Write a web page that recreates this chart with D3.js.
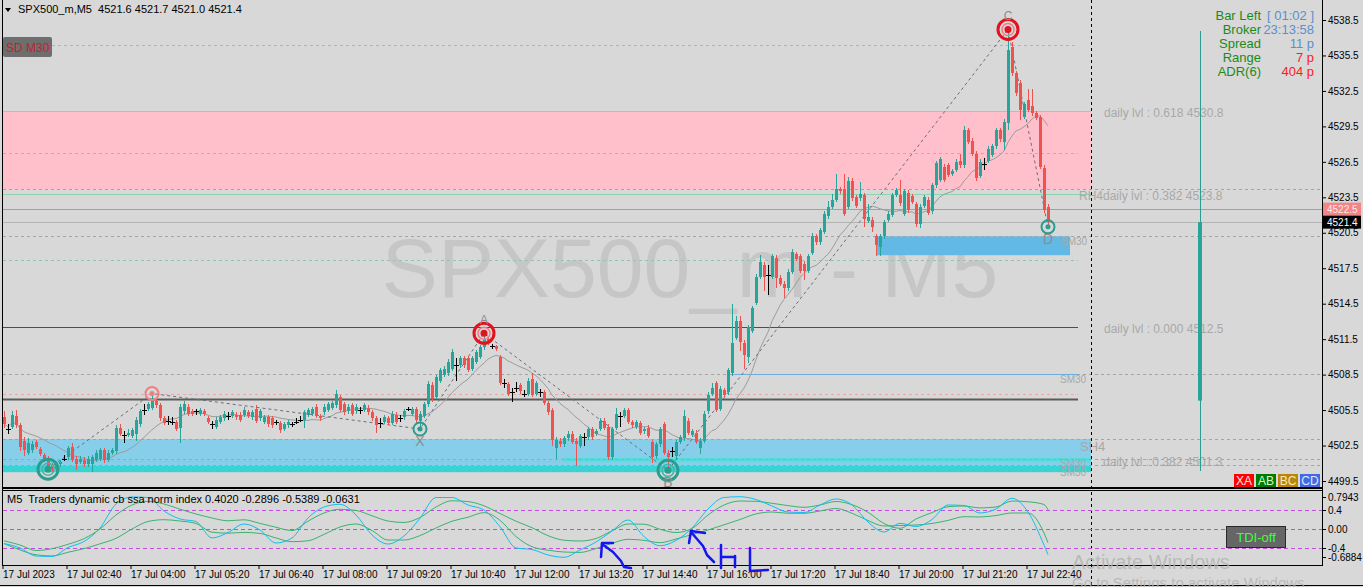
<!DOCTYPE html>
<html>
<head>
<meta charset="utf-8">
<script src="https://cdn.jsdelivr.net/npm/d3@7"></script>
<style>
  html, body { margin: 0; padding: 0; background: #d8d8d8; overflow: hidden; }
  svg { display: block; }
  text { font-family: "Liberation Sans", Arial, sans-serif; }
</style>
</head>
<body>
<div id="vis"></div>
<script>
// ---- data (SPX500_m, M5, 17 Jul 2023) ----
var opens = [
  4504.9,4503.9,4504.1,4505.0,4504.2,4502.9,4501.9,4502.1,4502.8,4502.2,
  4501.7,4501.4,4500.8,4500.5,4500.9,4501.4,4501.5,4502.4,4501.4,4501.1,
  4501.3,4500.9,4500.9,4501.3,4501.4,4502.1,4501.3,4501.9,4502.0,4504.0,
  4503.4,4503.4,4503.3,4503.5,4504.3,4505.5,4505.6,4505.7,4506.3,4505.9,
  4504.8,4504.6,4504.5,4504.5,4504.0,4505.4,4505.8,4505.4,4505.4,4505.2,
  4505.4,4504.8,4504.3,4504.1,4504.5,4504.8,4505.0,4505.0,4505.1,4505.1,
  4505.1,4505.3,4504.9,4505.6,4504.8,4504.5,4504.9,4504.8,4504.5,4504.4,
  4503.9,4504.2,4504.3,4504.5,4504.7,4504.7,4505.1,4505.2,4505.8,4505.0,
  4505.3,4505.5,4505.7,4505.9,4506.6,4506.0,4505.4,4505.9,4505.4,4505.5,
  4505.5,4505.7,4505.3,4504.8,4504.4,4504.5,4504.8,4504.4,4505.1,4504.8,
  4504.9,4505.6,4505.2,4505.6,4504.6,4505.0,4506.0,4507.6,4506.6,4508.0,
  4508.5,4508.6,4509.0,4509.3,4509.3,4509.9,4509.9,4509.0,4509.6,4510.0,
  4510.8,4511.5,4510.9,4510.9,4510.0,4507.8,4507.7,4507.0,4507.4,4507.6,
  4506.9,4506.9,4508.1,4506.9,4507.0,4507.0,4506.1,4505.5,4502.3,4502.9,
  4502.6,4503.1,4503.5,4502.9,4502.5,4503.2,4503.2,4503.9,4503.5,4503.9,
  4504.6,4504.1,4501.5,4504.0,4505.0,4505.0,4505.5,4504.5,4504.1,4504.4,
  4503.7,4504.0,4502.8,4501.6,4502.6,4504.3,4501.9,4502.0,4501.6,4502.8,
  4503.1,4504.6,4503.4,4503.6,4502.3,4502.9,4505.4,4506.9,4507.8,4505.6,
  4507.2,4507.0,4508.6,4511.6,4513.0,4511.2,4510.0,4512.2,4514.6,4516.8,
  4517.8,4516.9,4516.8,4518.4,4516.7,4516.2,4515.8,4517.2,4518.7,4518.5,
  4517.9,4517.3,4518.8,4520.2,4519.7,4520.6,4521.9,4522.7,4523.3,4524.2,
  4524.2,4522.7,4524.9,4523.5,4523.4,4523.7,4521.5,4521.6,4520.2,4519.3,
  4520.2,4521.6,4522.0,4523.7,4523.7,4522.1,4523.9,4523.6,4522.9,4521.2,
  4522.8,4523.3,4522.3,4524.5,4525.0,4526.1,4526.2,4525.5,4525.8,4526.6,
  4526.2,4529.2,4528.3,4527.2,4525.3,4526.3,4526.6,4527.1,4527.8,4529.2,
  4528.2,4529.8,4536.2,4534.0,4533.2,4530.3,4531.7,4531.2,4530.6,4530.3,4526.0,4522.7
];
var closes = [
  4504.3,4503.9,4505.1,4504.2,4502.4,4502.1,4502.7,4502.6,4502.4,4501.8,
  4501.3,4500.7,4500.5,4500.9,4501.1,4501.4,4502.3,4501.3,4500.9,4501.4,
  4500.9,4501.4,4501.5,4501.9,4502.1,4501.3,4501.9,4502.1,4504.0,4503.5,
  4503.4,4503.6,4503.8,4504.7,4505.4,4505.5,4506.0,4506.4,4505.9,4504.8,
  4504.4,4504.6,4504.5,4503.9,4505.8,4506.0,4505.2,4505.2,4505.4,4505.5,
  4505.2,4504.5,4504.3,4504.7,4504.9,4505.2,4505.0,4505.3,4504.9,4504.7,
  4505.5,4505.0,4505.3,4504.6,4505.4,4504.9,4504.3,4504.2,4504.5,4503.8,
  4504.3,4504.5,4504.3,4504.5,4504.7,4505.3,4505.5,4505.6,4505.0,4504.8,
  4505.8,4506.0,4506.1,4506.9,4505.5,4505.3,4505.8,4505.2,4505.8,4505.5,
  4505.9,4505.3,4504.8,4504.2,4504.4,4504.9,4504.4,4505.2,4504.5,4504.8,
  4505.4,4505.6,4505.6,4504.7,4505.2,4506.0,4507.7,4506.4,4508.3,4508.9,
  4509.0,4509.6,4510.4,4509.3,4509.9,4509.3,4508.9,4509.9,4510.4,4510.8,
  4511.5,4511.2,4510.9,4510.7,4507.8,4507.8,4506.9,4507.0,4507.4,4507.1,
  4506.9,4508.0,4506.8,4507.8,4507.0,4506.1,4505.3,4503.0,4503.0,4502.6,
  4503.1,4503.5,4502.8,4502.6,4503.3,4503.2,4503.9,4503.2,4503.7,4504.6,
  4504.0,4501.5,4503.9,4505.2,4505.0,4505.5,4504.5,4504.2,4504.5,4503.6,
  4503.9,4503.3,4501.5,4502.6,4503.9,4501.9,4501.5,4502.0,4502.8,4503.2,
  4505.0,4503.6,4503.7,4502.8,4502.9,4505.2,4506.8,4507.4,4505.5,4507.3,
  4506.8,4508.9,4511.2,4513.0,4511.3,4510.2,4512.5,4514.1,4516.8,4518.0,
  4516.8,4516.9,4518.5,4516.7,4516.2,4515.8,4517.2,4518.9,4518.3,4517.3,
  4517.3,4518.5,4520.2,4519.7,4520.7,4522.1,4522.7,4523.3,4524.2,4524.0,
  4522.1,4524.9,4523.4,4522.8,4523.8,4521.7,4521.8,4521.0,4519.5,4520.2,
  4521.4,4522.1,4523.7,4524.1,4523.0,4524.0,4522.4,4523.1,4521.2,4522.7,
  4523.5,4522.2,4524.5,4526.4,4526.7,4525.0,4525.4,4525.7,4526.5,4526.2,
  4529.2,4528.2,4527.2,4525.1,4526.5,4526.3,4527.6,4527.8,4529.2,4528.4,
  4529.9,4536.0,4534.0,4532.3,4530.9,4531.4,4530.9,4530.6,4530.2,4526.1,4522.4,4521.4
];
var highs = [
  4505.4,4504.3,4505.4,4505.5,4504.4,4503.2,4503.1,4502.9,4503.0,4502.4,
  4501.9,4501.6,4501.0,4501.1,4501.3,4501.7,4502.5,4502.7,4501.6,4501.6,
  4501.5,4501.6,4501.7,4502.1,4502.3,4502.3,4502.1,4502.3,4504.2,4504.3,
  4503.7,4503.9,4504.0,4504.9,4505.6,4506.0,4506.2,4506.9,4506.6,4506.1,
  4505.0,4505.0,4504.9,4504.7,4506.0,4506.3,4506.0,4505.6,4505.6,4505.7,
  4505.6,4505.0,4504.6,4504.9,4505.1,4505.4,4505.3,4505.5,4505.3,4505.3,
  4505.8,4505.5,4505.5,4505.9,4505.6,4505.1,4505.1,4505.0,4504.7,4504.6,
  4504.5,4504.7,4504.5,4504.8,4505.0,4505.5,4505.7,4505.8,4506.0,4505.2,
  4506.0,4506.2,4506.3,4507.2,4506.8,4506.2,4506.0,4506.1,4506.0,4505.8,
  4506.1,4505.9,4505.5,4505.0,4504.8,4505.1,4505.0,4505.4,4505.3,4505.1,
  4505.6,4505.8,4505.8,4505.8,4505.4,4506.2,4508.0,4507.9,4508.5,4509.1,
  4509.2,4509.8,4510.7,4509.9,4510.1,4510.1,4510.1,4510.1,4510.6,4511.0,
  4512.0,4511.7,4511.1,4511.0,4510.2,4508.1,4507.9,4507.4,4507.9,4507.8,
  4507.2,4508.2,4508.6,4508.0,4507.3,4507.2,4506.3,4505.7,4503.2,4503.1,
  4503.3,4503.7,4503.7,4503.1,4503.5,4503.6,4504.1,4504.1,4503.9,4504.8,
  4504.8,4504.3,4504.1,4505.7,4505.3,4505.7,4505.7,4504.7,4504.7,4504.6,
  4504.1,4504.2,4503.0,4502.8,4504.1,4504.5,4502.1,4502.4,4503.0,4503.4,
  4505.5,4504.8,4503.9,4503.8,4503.1,4505.4,4507.0,4507.8,4508.0,4507.5,
  4507.4,4509.1,4514.5,4513.5,4513.5,4511.4,4512.7,4514.3,4517.0,4518.6,
  4518.0,4517.8,4518.7,4518.6,4516.9,4516.4,4517.4,4519.1,4518.9,4518.7,
  4518.1,4518.7,4520.5,4520.4,4520.9,4522.3,4523.2,4523.8,4525.5,4524.4,
  4525.5,4525.2,4525.1,4523.7,4524.8,4523.9,4522.9,4521.8,4520.4,4520.4,
  4521.6,4522.3,4523.9,4524.3,4525.0,4524.2,4524.1,4523.8,4523.1,4522.9,
  4523.7,4523.5,4524.7,4526.6,4526.9,4526.3,4526.4,4525.9,4526.7,4527.2,
  4529.5,4529.4,4528.5,4527.4,4526.7,4526.8,4527.8,4528.0,4529.4,4529.4,
  4530.1,4537.7,4536.6,4534.2,4533.4,4531.6,4532.7,4532.7,4530.8,4530.5,4526.2,4522.9
];
var lows = [
  4504.0,4503.5,4503.9,4504.0,4502.0,4501.6,4501.7,4501.9,4502.2,4501.6,
  4501.1,4500.5,4500.2,4500.3,4500.7,4501.2,4501.3,4501.1,4500.4,4500.9,
  4500.7,4500.7,4500.3,4501.1,4501.2,4501.0,4501.1,4501.7,4501.8,4503.3,
  4502.7,4503.2,4503.1,4502.9,4504.1,4505.1,4505.4,4505.5,4505.7,4504.6,
  4504.2,4504.2,4504.2,4503.7,4502.7,4505.2,4505.0,4505.0,4505.1,4505.0,
  4505.0,4504.3,4503.9,4503.9,4504.3,4504.6,4504.7,4504.8,4504.7,4504.5,
  4504.9,4504.8,4504.7,4504.4,4504.6,4504.3,4504.1,4504.0,4504.2,4503.6,
  4503.7,4504.0,4504.1,4504.3,4504.5,4504.0,4504.9,4505.0,4504.8,4504.6,
  4505.1,4505.3,4505.5,4505.7,4505.3,4505.1,4505.2,4505.0,4505.2,4505.2,
  4505.3,4505.1,4504.6,4503.6,4504.0,4504.3,4504.2,4504.2,4504.3,4504.5,
  4504.7,4505.4,4505.0,4504.4,4503.9,4504.8,4505.8,4506.2,4506.4,4507.8,
  4508.3,4508.4,4508.8,4508.0,4509.1,4509.1,4508.7,4508.8,4509.4,4509.8,
  4510.6,4511.0,4510.7,4510.5,4507.6,4507.4,4506.7,4506.2,4507.0,4506.9,
  4506.6,4506.7,4506.6,4506.7,4506.6,4505.9,4505.1,4502.5,4501.4,4502.4,
  4502.4,4502.9,4502.6,4500.8,4502.3,4502.5,4503.0,4503.0,4503.3,4503.7,
  4503.8,4501.3,4501.3,4503.8,4504.1,4504.8,4504.3,4504.0,4503.9,4503.4,
  4503.5,4503.1,4501.0,4501.4,4502.4,4501.7,4500.4,4501.5,4501.4,4502.6,
  4502.9,4503.4,4503.2,4502.6,4501.8,4502.7,4505.2,4506.7,4505.3,4505.4,
  4506.6,4506.8,4508.4,4511.4,4510.5,4509.0,4509.5,4512.0,4514.4,4516.6,
  4515.6,4515.2,4516.6,4515.8,4516.0,4515.0,4515.6,4517.0,4518.1,4517.1,
  4516.5,4517.1,4518.6,4519.5,4519.5,4520.4,4521.7,4522.5,4523.1,4523.8,
  4521.9,4522.5,4523.2,4522.6,4523.2,4521.0,4521.3,4520.6,4518.5,4518.5,
  4520.0,4521.4,4521.8,4523.5,4522.8,4521.9,4522.2,4522.9,4521.0,4520.9,
  4522.6,4522.0,4522.1,4524.3,4524.8,4524.8,4525.2,4525.3,4525.6,4526.0,
  4526.0,4528.0,4527.0,4524.9,4525.1,4525.8,4526.4,4526.9,4527.6,4528.2,
  4527.5,4529.2,4533.8,4532.1,4530.0,4530.1,4530.7,4530.4,4530.0,4525.9,4522.2,4521.0
];

// time axis: bar index of each label, label text
var timeBars = [0, 16, 32, 48, 64, 80, 96, 112, 128, 144, 160, 176, 192, 208, 224, 240, 256];
var timeLabels = ["17 Jul 2023", "17 Jul 02:40", "17 Jul 04:00", "17 Jul 05:20", "17 Jul 06:40",
  "17 Jul 08:00", "17 Jul 09:20", "17 Jul 10:40", "17 Jul 12:00", "17 Jul 13:20", "17 Jul 14:40",
  "17 Jul 16:00", "17 Jul 17:20", "17 Jul 18:40", "17 Jul 20:00", "17 Jul 21:20", "17 Jul 22:40"];
var priceTicks = [4538.5, 4535.5, 4532.5, 4529.5, 4526.5, 4523.5, 4520.5, 4517.5,
  4514.5, 4511.5, 4508.5, 4505.5, 4502.5, 4499.5];

// swing points (zigzag + pattern markers)
var swingBars = [11, 37, 104, 120, 166, 251, 261];
var swingKind = ["low", "high", "low", "high", "low", "high", "low"];
var swingLetters = ["", "", "X", "A", "B", "C", "D"];

// horizontal levels (prices)
var pinkZone = [4524.2, 4530.8];
var demandZone = [4500.25, 4503.05];
var cyanBand = [4500.25, 4500.77];
var cyanBand2 = [4501.1, 4501.45];
var sm30Box = [4518.6, 4520.2];
var mintSolid = [4530.8, 4523.8];
var sdLevel = 4536.4;
var mintDashed = [4527.25, 4518.2];
var grayDashed = [4524.2, 4520.2, 4508.55, 4503.05, 4501.35, 4500.85];
var bidPrice = 4522.5, lastPrice = 4521.4;
var dailyZero = 4512.5, sm30Line = 4508.55, salmonDash = 4506.85, darkLevel = 4506.45, salmonLow = 4501.2;

// Traders dynamic index (sampled every 4 bars, last point = last bar)
var tdiBars = d3.range(0, 261, 4).concat([261]);
var tdiCyan = [
  -0.305,-0.40,-0.568,-0.579,-0.389,-0.263,0.021,0.526,0.674,0.663,
  0.379,0.211,0.158,-0.189,-0.074,0.105,-0.021,-0.295,-0.189,0.232,
  0.463,0.52,0.295,-0.126,-0.316,-0.147,0.225,0.663,0.663,0.505,
  0.40,0.048,-0.40,-0.432,-0.547,-0.596,-0.442,-0.274,-0.042,0.189,
  -0.158,-0.352,-0.242,0.021,0.421,0.663,0.68,0.621,0.484,0.358,
  0.347,0.505,0.632,0.505,0.147,-0.063,0.12,0.053,0.20,0.505,
  0.495,0.337,0.421,0.646,0.358,-0.337,-0.539];
var tdiGreenA = [
  -0.248,-0.337,-0.453,-0.415,-0.322,-0.202,0.0,0.295,0.505,0.583,
  0.526,0.417,0.316,0.232,0.173,0.194,0.118,0.036,-0.032,0.164,
  0.337,0.415,0.391,0.278,0.168,0.137,0.242,0.463,0.594,0.577,
  0.488,0.326,0.164,0.027,-0.141,-0.236,-0.253,-0.20,-0.038,0.105,
  0.101,-0.006,-0.074,0.011,0.295,0.505,0.589,0.583,0.541,0.493,
  0.457,0.505,0.579,0.512,0.352,0.116,0.015,0.211,0.345,0.469,
  0.484,0.444,0.463,0.589,0.573,0.516,0.402];
var tdiGreenB = [
  -0.305,-0.442,-0.543,-0.568,-0.49,-0.413,-0.312,-0.196,0.0,0.158,
  0.196,0.168,0.116,-0.067,-0.088,-0.072,-0.093,-0.189,-0.267,-0.248,
  -0.114,0.042,0.105,-0.032,-0.232,-0.232,-0.139,0.021,0.164,0.248,
  0.345,0.183,-0.158,-0.373,-0.446,-0.484,-0.493,-0.411,-0.301,-0.217,
  -0.238,-0.288,-0.211,-0.116,-0.021,0.088,0.20,0.318,0.358,0.331,
  0.331,0.379,0.432,0.331,0.179,0.063,0.074,0.084,0.116,0.181,
  0.259,0.253,0.284,0.337,0.337,-0.084,-0.2896];
var tdiLevels = [0.4, 0, -0.4];
var tdiLabels = [0.7943, 0.4, 0, -0.4, -0.6884];

var infoNames = ["Bar Left", "Broker", "Spread", "Range", "ADR(6)"];
var infoValues = ["[ 01:02 ]", "23:13:58", "11 p", "7 p", "404 p"];
var patternButtons = ["XA", "AB", "BC", "CD"];

// ---- layout ----
var W = 1363, H = 587;
var left = 3, lineEnd = 1078, zoneEnd = 1091, axisX = 1322;
var mainBottom = 487, subTop = 490, subBottom = 565;

var x = d3.scaleLinear().domain([0, 261]).range([4, 1048]);
var y = d3.scaleLinear().domain([4499.5, 4538.5]).range([481, 20]);
var yi = d3.scaleLinear().domain([-0.4, 0.4]).range([548, 510]);

var svg = d3.select("#vis").append("svg").attr("width", W).attr("height", H);
svg.append("rect").attr("width", W).attr("height", H).attr("fill", "#d8d8d8");

svg.append("clipPath").attr("id", "mainClip").append("rect")
  .attr("x", left).attr("y", 0).attr("width", axisX - left).attr("height", mainBottom);
svg.append("clipPath").attr("id", "subClip").append("rect")
  .attr("x", left).attr("y", subTop + 1).attr("width", axisX - left).attr("height", subBottom - subTop - 1);

var g = svg.append("g").attr("clip-path", "url(#mainClip)");

// watermark
g.append("text").attr("x", 690).attr("y", 297).attr("text-anchor", "middle")
  .attr("font-size", 84).attr("fill", "#c6c6c6").text("SPX500_m - M5");

// zones
function band(range, x0, x1, color) {
  g.append("rect").attr("x", x0).attr("width", x1 - x0)
    .attr("y", y(range[1])).attr("height", y(range[0]) - y(range[1]))
    .attr("fill", color);
}
band(pinkZone, left, zoneEnd, "#ffc0cb");
band(demandZone, left, zoneEnd, "#87ceeb");
band(cyanBand, left, zoneEnd, "#3ad3d3");
band(cyanBand2, 563, zoneEnd, "#52dcdc");
band(sm30Box, 877, 1070, "#62b9e6");

function hline(p, x0, x1, color, dash, w) {
  g.append("line").attr("x1", x0).attr("x2", x1)
    .attr("y1", Math.round(y(p)) + 0.5).attr("y2", Math.round(y(p)) + 0.5)
    .attr("stroke", color).attr("stroke-width", w || 1)
    .attr("stroke-dasharray", dash || null);
}
hline(sdLevel, 52, lineEnd, "#8cc8ac", "3,3");
mintDashed.forEach(function (p) { hline(p, left, lineEnd, "#8cc8ac", "3,3"); });
grayDashed.forEach(function (p) { hline(p, left, axisX, "#a4a4a4", "3,3"); });
mintSolid.forEach(function (p) { hline(p, left, zoneEnd, "#8fd4ae"); });
hline(bidPrice, left, axisX, "#f07f7f");
hline(lastPrice, left, axisX, "#b4b4b4");
hline(dailyZero, left, lineEnd, "#7e2c7e");
hline(sm30Line, x(182), lineEnd, "#6aaee0");
hline(salmonDash, left, lineEnd, "#f4a2a2", "3,3");
hline(darkLevel, left, lineEnd, "#5a5a5a", null, 2);
hline(salmonLow, left, lineEnd, "#f0a0a0");

// level captions
var capColor = "#a8a8a8";
function caption(txt, xx, p, dy, size) {
  g.append("text").attr("x", xx).attr("y", y(p) + dy).attr("font-size", size)
    .attr("fill", capColor).text(txt);
}
caption("daily lvl : 0.618 4530.8", 1104, 4530.8, 6, 12);
caption("RH4daily lvl : 0.382 4523.8", 1079, 4523.8, 6, 12);
caption("daily lvl : 0.000 4512.5", 1104, dailyZero, 6, 12);
caption("daily lvl : 0.382 4501.3", 1103, 4501.3, 6, 12);
caption("SH4", 1080, 4503.05, 12, 13);
caption("SM30", 1061, sm30Box[1], 9, 10);
caption("SM30", 1060, sm30Line, 9, 10);
caption("SM30", 1060, 4501.35, 8, 10);
caption("SM30", 1060, 4500.85, 11, 10);

// moving average of closes
var bars = d3.range(opens.length);
var maPeriod = 14;
var ma = bars.map(function (i) {
  return d3.mean(closes.slice(Math.max(0, i - maPeriod + 1), i + 1));
});
g.append("path").datum(bars)
  .attr("d", d3.line().x(function (i) { return x(i); }).y(function (i) { return y(ma[i]); }))
  .attr("fill", "none").attr("stroke", "#9c9c9c").attr("stroke-width", 1);

// zigzag
function swingPrice(k) {
  var i = swingBars[k];
  return swingKind[k] === "high" ? highs[i] : lows[i];
}
g.append("path").datum(d3.range(swingBars.length))
  .attr("d", d3.line().x(function (k) { return x(swingBars[k]); }).y(function (k) { return y(swingPrice(k)); }))
  .attr("fill", "none").attr("stroke", "#66707c").attr("stroke-width", 1)
  .attr("stroke-dasharray", "3,3");

// candles
function candleColor(i) {
  if (opens[i] === closes[i]) return "#000";
  return closes[i] > opens[i] ? "#26a69a" : "#ef5350";
}
var gc = g.append("g").attr("shape-rendering", "crispEdges");
gc.selectAll("line").data(bars).enter().append("line")
  .attr("x1", function (i) { return Math.round(x(i)) + 0.5; })
  .attr("x2", function (i) { return Math.round(x(i)) + 0.5; })
  .attr("y1", function (i) { return y(highs[i]); })
  .attr("y2", function (i) { return y(lows[i]); })
  .attr("stroke", candleColor);
gc.selectAll("rect").data(bars).enter().append("rect")
  .attr("x", function (i) { return Math.round(x(i)) - (opens[i] === closes[i] ? 2 : 1); })
  .attr("width", function (i) { return opens[i] === closes[i] ? 5 : 3; })
  .attr("y", function (i) { return y(Math.max(opens[i], closes[i])); })
  .attr("height", function (i) { return Math.max(1, Math.abs(y(opens[i]) - y(closes[i]))); })
  .attr("fill", candleColor);

// swing markers
var markerStyle = [
  { big: true, color: "#2a9d8f" }, { big: false, color: "#f08080" }, { big: false, color: "#2a9d8f" },
  { big: true, color: "#e0141e" }, { big: true, color: "#2a9d8f" }, { big: true, color: "#e0141e" },
  { big: false, color: "#2a9d8f" }];
swingBars.forEach(function (b, k) {
  var cx = x(b), cy = y(swingPrice(k)), st = markerStyle[k];
  var isHigh = swingKind[k] === "high";
  if (st.big) {
    g.append("circle").attr("cx", cx).attr("cy", cy).attr("r", 10).attr("fill", "none")
      .attr("stroke", st.color).attr("stroke-width", 3);
    g.append("circle").attr("cx", cx).attr("cy", cy).attr("r", 6).attr("fill", "none")
      .attr("stroke", isHigh ? "#f27a86" : "#45b3a6").attr("stroke-width", 1.5);
    g.append("circle").attr("cx", cx).attr("cy", cy).attr("r", 3.5).attr("fill", st.color);
  } else {
    g.append("circle").attr("cx", cx).attr("cy", cy).attr("r", 6.5).attr("fill", "none")
      .attr("stroke", st.color).attr("stroke-width", 2);
    g.append("circle").attr("cx", cx).attr("cy", cy).attr("r", 2.5).attr("fill", st.color);
  }
  if (swingLetters[k]) {
    g.append("text").attr("x", cx).attr("y", isHigh ? cy - 9 : cy + 17)
      .attr("text-anchor", "middle").attr("font-size", isHigh ? 12 : 14).attr("fill", "#8c8c8c")
      .text(swingLetters[k]);
  }
});

// SD M30 tag
svg.append("rect").attr("x", 3).attr("y", 37).attr("width", 49).attr("height", 20)
  .attr("rx", 2).attr("fill", "#6e6e6e");
svg.append("text").attr("x", 6).attr("y", 52).attr("font-size", 12).attr("fill", "#c3232d").text("SD M30");

// title
svg.append("path").attr("d", "M5,8L11,8L8,12Z").attr("fill", "#000");
svg.append("text").attr("x", 18).attr("y", 13).attr("font-size", 11).attr("fill", "#000")
  .attr("xml:space", "preserve").text("SPX500_m,M5  4521.6 4521.7 4521.0 4521.4");

// session marker at right
svg.append("line").attr("x1", zoneEnd + 0.5).attr("x2", zoneEnd + 0.5).attr("y1", 0).attr("y2", H)
  .attr("stroke", "#000").attr("stroke-dasharray", "3,3");
svg.append("line").attr("x1", 1200.5).attr("x2", 1200.5).attr("y1", 31).attr("y2", 471)
  .attr("stroke", "#2a9d8f");
svg.append("rect").attr("x", 1198).attr("width", 4).attr("y", y(lastPrice)).attr("height", y(4506.3) - y(lastPrice))
  .attr("fill", "#26a69a");

// info panel
infoNames.forEach(function (n, k) {
  svg.append("text").attr("x", 1261).attr("y", 20 + k * 14).attr("text-anchor", "end")
    .attr("font-size", 13).attr("fill", "#1b8a1b").text(n);
  svg.append("text").attr("x", 1314).attr("y", 20 + k * 14).attr("text-anchor", "end")
    .attr("font-size", 13).attr("fill", k >= 3 ? "#ff1a1a" : "#5a8fcf").text(infoValues[k]);
});

// pattern buttons
var btnFill = ["#ff0000", "#007a00", "#b8860b", "#4169e1"];
var btnText = ["#ffe0e0", "#c8ffc8", "#ffe9b0", "#e0e8ff"];
patternButtons.forEach(function (b, k) {
  var bx = 1234 + k * 22;
  svg.append("rect").attr("x", bx).attr("y", 474).attr("width", 20).attr("height", 13)
    .attr("fill", btnFill[k]);
  svg.append("text").attr("x", bx + 10).attr("y", 485).attr("text-anchor", "middle")
    .attr("font-size", 12).attr("fill", btnText[k]).text(b);
});

// price axis
var ya = svg.append("g").attr("transform", "translate(" + axisX + ",0)")
  .call(d3.axisRight(y).tickValues(priceTicks).tickSize(4).tickPadding(2).tickFormat(d3.format(".1f")));
ya.select(".domain").remove();
ya.selectAll("line").attr("stroke", "#000");
ya.selectAll("text").attr("font-size", 10).attr("font-family", "Liberation Sans, Arial").attr("fill", "#000");

function priceTag(p, bg, fg) {
  svg.append("rect").attr("x", axisX + 1).attr("y", y(p) - 6.5).attr("width", 38).attr("height", 13).attr("fill", bg);
  svg.append("text").attr("x", axisX + 5).attr("y", y(p) + 4).attr("font-size", 10).attr("fill", fg)
    .text(d3.format(".1f")(p));
}
priceTag(bidPrice, "#f28686", "#ffe6e6");
priceTag(lastPrice, "#000", "#fff");

// indicator panel
var gi = svg.append("g").attr("clip-path", "url(#subClip)");
tdiLevels.forEach(function (v) {
  gi.append("line").attr("x1", left).attr("x2", axisX)
    .attr("y1", Math.round(yi(v)) + 0.5).attr("y2", Math.round(yi(v)) + 0.5)
    .attr("stroke", "#c24ee0").attr("stroke-dasharray", "4,3");
});
function tdiLine(vals, color) {
  gi.append("path").datum(d3.range(vals.length))
    .attr("d", d3.line().curve(d3.curveMonotoneX)
      .x(function (k) { return x(tdiBars[k]); }).y(function (k) { return yi(vals[k]); }))
    .attr("fill", "none").attr("stroke", color).attr("stroke-width", 1);
}
tdiLine(tdiGreenB, "#3cb371");
tdiLine(tdiGreenA, "#3cb371");
tdiLine(tdiCyan, "#12bff2");

svg.append("text").attr("x", 7).attr("y", 503).attr("font-size", 11).attr("fill", "#000")
  .attr("xml:space", "preserve")
  .text("M5  Traders dynamic cb ssa norm index 0.4020 -0.2896 -0.5389 -0.0631");

tdiLabels.forEach(function (v) {
  var ty = Math.max(497, Math.min(557, yi(v)));
  svg.append("line").attr("x1", axisX).attr("x2", axisX + 4).attr("y1", Math.round(ty) + 0.5).attr("y2", Math.round(ty) + 0.5)
    .attr("stroke", "#000");
  svg.append("text").attr("x", axisX + 6).attr("y", ty + 4).attr("font-size", 10).attr("fill", "#000")
    .text(v === 0 ? "0.00" : String(v));
});

// TDI-off button
svg.append("rect").attr("x", 1226.5).attr("y", 526.5).attr("width", 59).attr("height", 21)
  .attr("fill", "#666").attr("stroke", "#2a2a2a");
svg.append("text").attr("x", 1256).attr("y", 542).attr("text-anchor", "middle").attr("font-size", 13)
  .attr("fill", "#3dff3d").text("TDI-off");

// frames
svg.append("line").attr("x1", 2.5).attr("x2", 2.5).attr("y1", 0).attr("y2", subBottom).attr("stroke", "#000");
svg.append("line").attr("x1", axisX + 0.5).attr("x2", axisX + 0.5).attr("y1", 0).attr("y2", subBottom + 1).attr("stroke", "#000");
svg.append("line").attr("x1", 2).attr("x2", axisX + 1).attr("y1", mainBottom + 1).attr("y2", mainBottom + 1).attr("stroke", "#000").attr("stroke-width", 2);
svg.append("line").attr("x1", 2).attr("x2", axisX + 1).attr("y1", subTop + 0.5).attr("y2", subTop + 0.5).attr("stroke", "#000");
svg.append("line").attr("x1", 2).attr("x2", axisX + 1).attr("y1", subBottom + 0.5).attr("y2", subBottom + 0.5).attr("stroke", "#000");
svg.append("line").attr("x1", 0).attr("x2", W).attr("y1", 585.5).attr("y2", 585.5).attr("stroke", "#000");

// time axis
var xa = svg.append("g").attr("transform", "translate(0," + (subBottom + 1) + ")")
  .call(d3.axisBottom(x).tickValues(timeBars).tickSize(3).tickPadding(1)
    .tickFormat(function (d, k) { return timeLabels[k]; }));
xa.select(".domain").remove();
xa.selectAll(".tick").attr("transform", function (d) { return "translate(" + (x(d) - 1) + ",0)"; });
xa.selectAll("line").attr("stroke", "#000");
xa.selectAll("text").attr("font-size", 10).attr("font-family", "Liberation Sans, Arial")
  .attr("fill", "#000").attr("text-anchor", "start").attr("dy", "0.75em");

// hand-drawn annotations
var pen = [
  "M613,543 L602,543 L601,557", "M602,544 L613,552 L621,561 L624,567 L631,568",
  "M705,533 L691,531 L689,543", "M691,532 L703,546 L707,555 L714,562",
  "M721,545 L721,568", "M722,557 L735,557", "M735,556 L735,567",
  "M750,548 L750,571 L768,570"
];
pen.forEach(function (d) {
  svg.append("path").attr("d", d).attr("fill", "none").attr("stroke", "#1515f0")
    .attr("stroke-width", 2.5).attr("stroke-linecap", "round").attr("stroke-linejoin", "round");
});

// activation overlay
svg.append("text").attr("x", 1072).attr("y", 569).attr("font-size", 20).attr("fill", "#b4b4b4")
  .attr("fill-opacity", 0.85).text("Activate Windows");
svg.append("text").attr("x", 1072).attr("y", 588).attr("font-size", 15).attr("fill", "#b4b4b4")
  .attr("fill-opacity", 0.85).text("Go to Settings to activate Windows.");
</script>
</body>
</html>
